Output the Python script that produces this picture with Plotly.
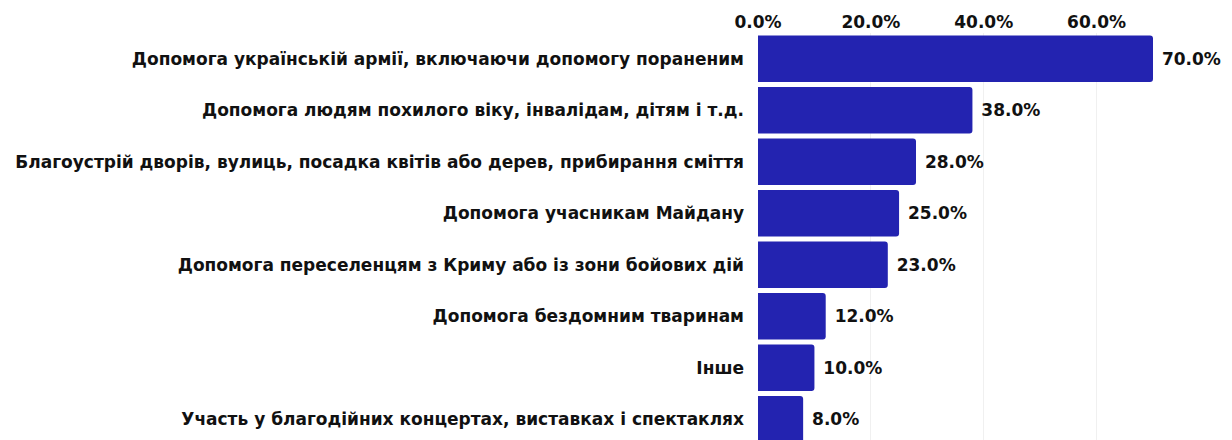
import plotly.graph_objects as go

categories = [
    "Допомога українській армії, включаючи допомогу пораненим",
    "Допомога людям похилого віку, інвалідам, дітям і т.д.",
    "Благоустрій дворів, вулиць, посадка квітів або дерев, прибирання сміття",
    "Допомога учасникам Майдану",
    "Допомога переселенцям з Криму або із зони бойових дій",
    "Допомога бездомним тваринам",
    "Інше",
    "Участь у благодійних концертах, виставках і спектаклях",
]
values = [70.0, 38.0, 28.0, 25.0, 23.0, 12.0, 10.0, 8.0]
tick_vals = [0, 20, 40, 60]
tick_text = ["0.0%", "20.0%", "40.0%", "60.0%"]

FONT = "DejaVu Sans"
BAR = "#2323B0"

fig = go.Figure()
fig.add_trace(go.Bar(
    x=values, y=categories, orientation="h",
    marker=dict(color=BAR, line=dict(width=0)),
    text=[f"\u00a0{v:.1f}%" for v in values],
    textposition="outside",
    cliponaxis=False,
    textfont=dict(family=FONT, size=17, color="#111111", weight=700),
    hoverinfo="skip",
))

fig.update_layout(
    width=1232, height=440,
    margin=dict(l=750, r=87, t=25, b=3, autoexpand=False),
    paper_bgcolor="white", plot_bgcolor="white",
    bargap=0.1,
    barcornerradius=3,
    showlegend=False,
    font=dict(family=FONT, color="#111111"),
    xaxis=dict(
        side="top", range=[0, 70], tickvals=tick_vals, ticktext=tick_text,
        showgrid=True, gridcolor="#f0f0f0", gridwidth=1, zeroline=False,
        showline=False, ticks="", automargin=False, ticklabelstandoff=1,
        tickfont=dict(family=FONT, size=17, color="#111111", weight=700),
    ),
    yaxis=dict(
        autorange="reversed", showgrid=False, zeroline=False, showline=False,
        ticks="", ticklabelstandoff=13, automargin=False,
        tickfont=dict(family=FONT, size=17, color="#111111", weight=700),
    ),
)
fig.write_html("out.html")
